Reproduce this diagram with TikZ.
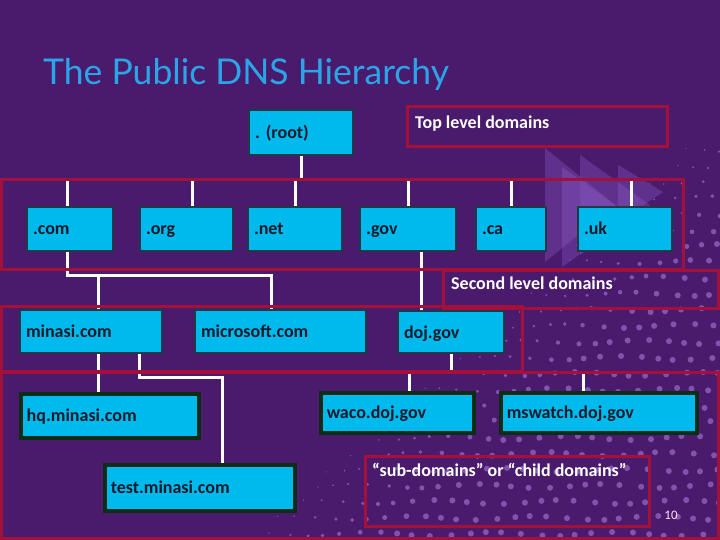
\documentclass[tikz,border=0pt]{standalone}
\usepackage{fontspec}
\setmainfont{Carlito}
\newfontfamily\titlefont{Lato}
\definecolor{bgc}{HTML}{4A1A6C}
\definecolor{redc}{HTML}{A3103C}
\definecolor{cyanc}{HTML}{00B9ED}
\definecolor{edgec}{HTML}{1C3A48}
\definecolor{edgeiii}{HTML}{0B2D16}
\definecolor{txtc}{HTML}{0B1B2B}
\definecolor{titlec}{HTML}{2AA6E8}
\definecolor{dotc}{HTML}{9A6CCB}
\definecolor{tric}{HTML}{8A5CC8}
\tikzset{
  dnsbox/.style={draw=edgec, line width=2pt, fill=cyanc, anchor=north west,
    inner xsep=6pt, inner ysep=0pt, align=left, text=txtc,
    text height=14pt, text depth=2pt,
    font=\frenchspacing\bfseries\fontsize{18}{21}\selectfont},
  leafbox/.style={dnsbox, draw=edgeiii, line width=3.5pt},
  conn/.style={draw=white, line width=3pt},
  frame/.style={draw=redc, line width=3pt},
  tag/.style={anchor=north west, inner sep=0pt, text=white,
    font=\bfseries\fontsize{18}{21}\selectfont},
  tri/.style={fill=tric, fill opacity=0.35}
}
\begin{document}
\begin{tikzpicture}[x=1pt,y=-1pt]
\fill[bgc] (0,0) rectangle (720,540);
\useasboundingbox (0,0) rectangle (720,540);
% decorative dots
\foreach \i in {0,...,40}{\foreach \j in {0,...,24}{
  \pgfmathsetmacro\xx{\i*18+mod(\j,2)*9+3*sin(\i*77+\j*131)}
  \pgfmathsetmacro\yy{150+\j*16+2*cos(\i*53+\j*97)}
  \pgfmathsetmacro\tval{(\xx-650)/200+(\yy-150)/180}
  \pgfmathsetmacro\rr{min(3,3.5*\tval)}
  \ifdim\rr pt>0.5pt \fill[dotc, fill opacity=0.7] (\xx,\yy) circle[radius=\rr]; \fi
}}
% decorative triangles
\fill[tri] (545,148) -- (615,205) -- (545,262) -- cycle;
\fill[tri] (562,167) -- (632,217) -- (562,267) -- cycle;
\fill[tri] (580,155) -- (650,205) -- (580,255) -- cycle;
\fill[tri] (618,165) -- (663,192) -- (618,222) -- cycle;

% title
\node[anchor=base west, inner sep=0pt, text=titlec,
  font=\titlefont\fontsize{35.5}{42}\selectfont] (title) at (43,85) {The Public DNS Hierarchy};

% nodes
\node[dnsbox, text width=92pt, minimum height=45pt] (root) at (248,109) {. (root)};
\node[dnsbox, text width=74pt, minimum height=44pt] (com) at (26,206) {.com};
\node[dnsbox, text width=81pt, minimum height=44pt] (org) at (139,206) {.org};
\node[dnsbox, text width=82pt, minimum height=44pt] (net) at (247,206) {.net};
\node[dnsbox, text width=84pt, minimum height=44pt] (gov) at (359,206) {.gov};
\node[dnsbox, text width=58pt, minimum height=44pt] (ca) at (475,206) {.ca};
\node[dnsbox, text width=82pt, minimum height=44pt] (uk) at (577,206) {.uk};
\node[dnsbox, text width=130pt, minimum height=43pt] (minasi) at (19,309) {minasi.com};
\node[dnsbox, text width=159pt, minimum height=43pt] (microsoft) at (194,309) {microsoft.com};
\node[dnsbox, text width=94pt, minimum height=42pt] (doj) at (397,310) {doj.gov};
\node[leafbox, text width=166pt, minimum height=44pt] (hq) at (19,392) {hq.minasi.com};
\node[leafbox, text width=178pt, minimum height=46pt] (test) at (103,463) {test.minasi.com};
\node[leafbox, text width=141pt, minimum height=40pt] (waco) at (319,391) {waco.doj.gov};
\node[leafbox, text width=184pt, minimum height=40pt] (mswatch) at (499,391) {mswatch.doj.gov};

% bus coordinates and shifted attachment points
\coordinate (tbus) at (0,180);
\coordinate (sbus) at (0,275);
\coordinate (mbus) at (0,377);
\coordinate (dbus) at (0,372);
\coordinate (comN) at ([xshift=-3pt]com.north);
\coordinate (comS) at ([xshift=-3pt]com.south);
\coordinate (orgN) at ([xshift=6pt]org.north);
\coordinate (ukN) at ([xshift=6pt]uk.north);
\coordinate (msN) at ([xshift=-9.5pt]microsoft.north);
\coordinate (minN) at ([xshift=7pt]minasi.north);
\coordinate (minSa) at ([xshift=-11pt]hq.north |- minasi.south);
\coordinate (hqN) at ([xshift=-11pt]hq.north);
\coordinate (minSb) at ([xshift=48pt]minasi.south);
\coordinate (testN) at ([xshift=23pt]test.north);
\coordinate (govS) at ([xshift=13pt]gov.south);
\coordinate (dojN) at ([xshift=-30pt]doj.north);
\coordinate (wacoN) at ([xshift=12.5pt]waco.north);
\coordinate (mswN) at ([xshift=-15pt]mswatch.north);

% connectors
\draw[conn] (root.south) -- (root.south |- tbus);
\draw[conn] (comN |- tbus) -- (ukN |- tbus);
\draw[conn] (comN) -- (comN |- tbus);
\draw[conn] (orgN) -- (orgN |- tbus);
\draw[conn] (net.north) -- (net.north |- tbus);
\draw[conn] (gov.north) -- (gov.north |- tbus);
\draw[conn] (ca.north) -- (ca.north |- tbus);
\draw[conn] (ukN) -- (ukN |- tbus);

\draw[conn] (comS) |- (sbus -| msN) -- (msN);
\draw[conn] (minN) -- (minN |- sbus);
\draw[conn] (govS) -- (dojN);

\draw[conn] (hqN) -- (minSa);
\draw[conn] (minSb) |- (mbus -| testN) -- (testN);

\draw[conn] (doj.south) -- (doj.south |- dbus);
\draw[conn] (wacoN |- dbus) -- (mswN |- dbus);
\draw[conn] (wacoN) -- (wacoN |- dbus);
\draw[conn] (mswN) -- (mswN |- dbus);

% red frames
\draw[frame] (1.5,179.5) rectangle (683,269);
\draw[frame] (1.5,306) rectangle (522,371);
\draw[frame] (1.5,372.5) rectangle (718,538.5);
\draw[frame] (407,107) rectangle (667,147);
\draw[frame] (443,270) rectangle (718,308);
\draw[frame] (365,456) rectangle (649,526);

% labels
\node[tag] (toplbl) at (415,116) {Top level domains};
\node[tag] (seclbl) at (451,277) {Second level domains};
\node[tag] (sublbl) at (372,463) {“sub-domains” or “child domains”};
\node[inner sep=0pt, text=white!90!purple, font=\fontsize{13}{15}\selectfont] (pg) at (671,515) {10};
\end{tikzpicture}
\end{document}
